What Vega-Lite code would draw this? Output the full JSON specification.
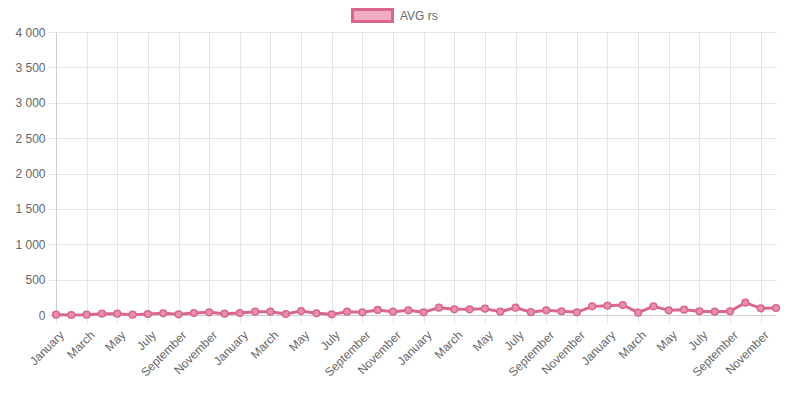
{
  "$schema": "https://vega.github.io/schema/vega-lite/v6.json",
  "width": 720,
  "height": 283,
  "autosize": {"type": "none"},
  "padding": {"left": 56, "top": 32, "right": 15, "bottom": 80},
  "config": {
    "view": {"stroke": null},
    "font": "Liberation Sans",
    "axis": {
      "labelFont": "Liberation Sans",
      "labelFontSize": 12,
      "labelColor": "#666666",
      "gridColor": "#e6e6e6",
      "gridOpacity": 1,
      "tickColor": "#e6e6e6",
      "tickSize": 8,
      "domainColor": "#cfcfcf",
      "title": null
    },
    "legend": {"padding": 0}
  },
  "data": {
    "values": [
      {"month": "2019-01", "series": "AVG rs", "avg": 5},
      {"month": "2019-02", "series": "AVG rs", "avg": 0},
      {"month": "2019-03", "series": "AVG rs", "avg": 5},
      {"month": "2019-04", "series": "AVG rs", "avg": 19},
      {"month": "2019-05", "series": "AVG rs", "avg": 19},
      {"month": "2019-06", "series": "AVG rs", "avg": 5},
      {"month": "2019-07", "series": "AVG rs", "avg": 14},
      {"month": "2019-08", "series": "AVG rs", "avg": 24},
      {"month": "2019-09", "series": "AVG rs", "avg": 9},
      {"month": "2019-10", "series": "AVG rs", "avg": 28},
      {"month": "2019-11", "series": "AVG rs", "avg": 38},
      {"month": "2019-12", "series": "AVG rs", "avg": 19},
      {"month": "2020-01", "series": "AVG rs", "avg": 28},
      {"month": "2020-02", "series": "AVG rs", "avg": 47},
      {"month": "2020-03", "series": "AVG rs", "avg": 47},
      {"month": "2020-04", "series": "AVG rs", "avg": 14},
      {"month": "2020-05", "series": "AVG rs", "avg": 55},
      {"month": "2020-06", "series": "AVG rs", "avg": 24},
      {"month": "2020-07", "series": "AVG rs", "avg": 9},
      {"month": "2020-08", "series": "AVG rs", "avg": 47},
      {"month": "2020-09", "series": "AVG rs", "avg": 38},
      {"month": "2020-10", "series": "AVG rs", "avg": 71},
      {"month": "2020-11", "series": "AVG rs", "avg": 47},
      {"month": "2020-12", "series": "AVG rs", "avg": 66},
      {"month": "2021-01", "series": "AVG rs", "avg": 38},
      {"month": "2021-02", "series": "AVG rs", "avg": 104},
      {"month": "2021-03", "series": "AVG rs", "avg": 80},
      {"month": "2021-04", "series": "AVG rs", "avg": 80},
      {"month": "2021-05", "series": "AVG rs", "avg": 90},
      {"month": "2021-06", "series": "AVG rs", "avg": 47},
      {"month": "2021-07", "series": "AVG rs", "avg": 104},
      {"month": "2021-08", "series": "AVG rs", "avg": 40},
      {"month": "2021-09", "series": "AVG rs", "avg": 66},
      {"month": "2021-10", "series": "AVG rs", "avg": 52},
      {"month": "2021-11", "series": "AVG rs", "avg": 38},
      {"month": "2021-12", "series": "AVG rs", "avg": 122},
      {"month": "2022-01", "series": "AVG rs", "avg": 132},
      {"month": "2022-02", "series": "AVG rs", "avg": 141},
      {"month": "2022-03", "series": "AVG rs", "avg": 33},
      {"month": "2022-04", "series": "AVG rs", "avg": 122},
      {"month": "2022-05", "series": "AVG rs", "avg": 66},
      {"month": "2022-06", "series": "AVG rs", "avg": 75},
      {"month": "2022-07", "series": "AVG rs", "avg": 52},
      {"month": "2022-08", "series": "AVG rs", "avg": 47},
      {"month": "2022-09", "series": "AVG rs", "avg": 52},
      {"month": "2022-10", "series": "AVG rs", "avg": 174},
      {"month": "2022-11", "series": "AVG rs", "avg": 94},
      {"month": "2022-12", "series": "AVG rs", "avg": 99}
    ]
  },
  "encoding": {
    "x": {
      "field": "month",
      "type": "ordinal",
      "sort": null,
      "scale": {"type": "point", "padding": 0},
      "axis": {
        "values": ["2019-01","2019-03","2019-05","2019-07","2019-09","2019-11","2020-01","2020-03","2020-05","2020-07","2020-09","2020-11","2021-01","2021-03","2021-05","2021-07","2021-09","2021-11","2022-01","2022-03","2022-05","2022-07","2022-09","2022-11"],
        "labelExpr": "['January','February','March','April','May','June','July','August','September','October','November','December'][toNumber(slice(datum.value,5,7))-1]",
        "labelAngle": -45,
        "labelAlign": "right",
        "labelBaseline": "top",
        "labelPadding": 6,
        "labelOffset": 2,
        "labelOverlap": false,
        "grid": true
      }
    },
    "y": {
      "field": "avg",
      "type": "quantitative",
      "scale": {"domain": [0, 4000], "nice": false},
      "axis": {
        "values": [0, 500, 1000, 1500, 2000, 2500, 3000, 3500, 4000],
        "labelExpr": "replace(format(datum.value, ','), ',', ' ')",
        "labelPadding": 3,
        "grid": true
      }
    }
  },
  "layer": [
    {
      "mark": {"type": "line", "strokeWidth": 3},
      "encoding": {
        "color": {
          "field": "series",
          "type": "nominal",
          "scale": {"range": ["#d9668f"]},
          "legend": {
            "orient": "none",
            "legendX": 295,
            "legendY": -38,
            "title": null,
            "labelFontSize": 12,
            "labelColor": "#666666",
            "labelOffset": 6,
            "symbolType": "M-1,-0.3H1V0.3H-1Z",
            "symbolSize": 1600,
            "symbolFillColor": "#f2adc2",
            "symbolStrokeColor": "#db6a8f",
            "symbolStrokeWidth": 3,
            "encode": {
              "symbols": {
                "update": {
                  "fill": {"value": "#f2adc2"},
                  "fillOpacity": {"value": 1},
                  "stroke": {"value": "#db6a8f"},
                  "strokeWidth": {"value": 3}
                }
              }
            }
          }
        }
      }
    },
    {
      "mark": {"type": "point", "filled": true, "size": 45, "fill": "#e78fae", "stroke": "#d9668f", "strokeWidth": 1.5, "opacity": 1}
    }
  ]
}
